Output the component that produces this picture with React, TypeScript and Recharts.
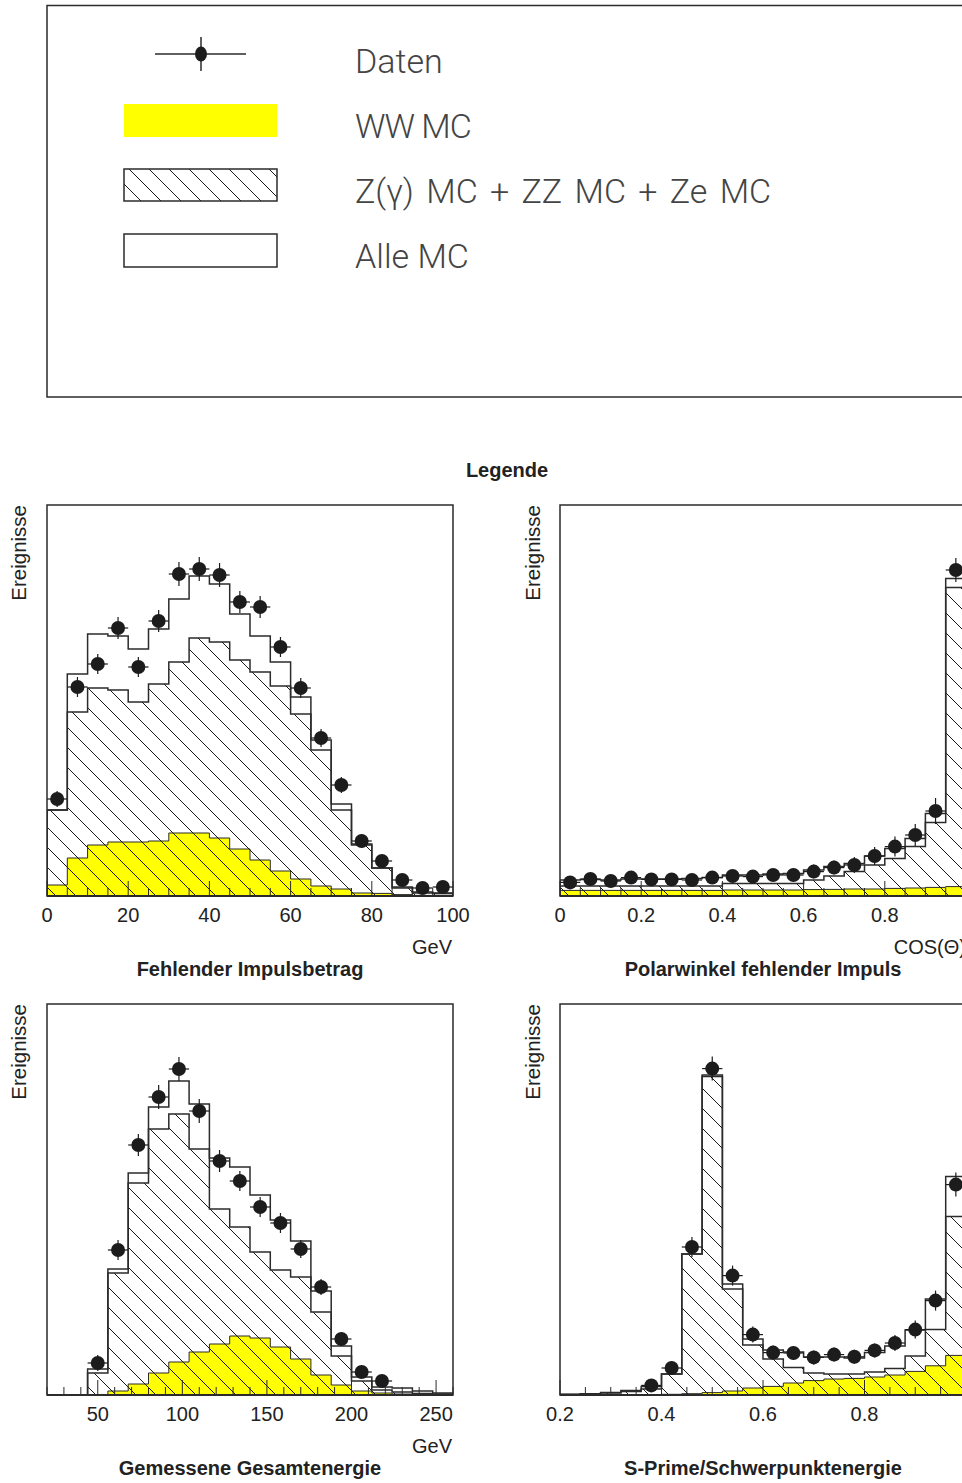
import React from "react";
import {
  ComposedChart,
  Area,
  Scatter,
  ErrorBar,
  XAxis,
  YAxis,
  ReferenceArea,
} from "recharts";

// Fehlender Impulsbetrag, 20 bins of 5 GeV from 0
const pmissData = [48.5, 104.5, 116, 134, 114.5, 137.5, 161, 163.5, 160.5, 147, 144.5, 124.5, 104, 79, 55.5, 27.5, 17.5, 8, 4, 4.5];
const pmissErr = [4, 5, 5, 5.5, 5, 5.5, 6, 6, 6, 5.5, 5.5, 5, 5, 4.5, 4, 3.5, 3, 2.5, 2, 2];
const pmissAll = [43, 111, 131, 130, 123.5, 133.5, 148.5, 160, 156, 141, 130, 117, 99.5, 78, 46, 26, 14, 4.5, 2, 1.5];
const pmissZ = [43, 92, 104, 103, 97, 106, 117, 129, 127, 118, 112, 105, 91, 73, 43, 25.5, 14, 4, 1.5, 1.3];
const pmissWW = [5.5, 19, 25.5, 27, 27, 27.5, 31.5, 31.5, 29, 23.5, 18, 12.5, 8.5, 5, 3.5, 1.5, 1.3, 0.7, 0.3, 0.3];
const pmissTicks = [0, 5, 10, 15, 20, 25, 30, 35, 40, 45, 50, 55, 60, 65, 70, 75, 80, 85, 90, 95, 100];
const pmissLabels = [0, 20, 40, 60, 80, 100];

// Polarwinkel, 20 bins of 0.05 from 0
const cosData = [6.8, 8.5, 7.5, 9.2, 8.3, 8.3, 8, 9.2, 10, 9.7, 10.5, 10.5, 12.2, 14.2, 15.5, 20, 24.7, 30.5, 42.5, 163];
const cosErr = [2.5, 3, 3, 3, 3, 3, 3, 3, 3, 3, 3, 3, 3.5, 3.5, 4, 4.5, 5, 5.5, 6.5, 6];
const cosAll = [8, 8.3, 8, 8.5, 8.5, 8.5, 8.8, 9.2, 10.5, 10.5, 11, 11.3, 13, 14.7, 16.3, 20, 23.8, 28.8, 41.3, 158.8];
const cosZ = [5, 5, 5, 5, 5, 5, 5, 5, 6.3, 6.3, 6.3, 6.3, 8, 10, 12.2, 15.5, 18.8, 24.7, 36.7, 154.2];
const cosWW = [2.8, 2.8, 2.8, 2.8, 2.8, 2.8, 2.8, 2.8, 3, 3, 3, 3, 3.2, 3.3, 3.5, 3.5, 3.8, 4, 4.3, 4.7];
const cosTicks = [0, 0.05, 0.1, 0.15, 0.2, 0.25, 0.3, 0.35, 0.4, 0.45, 0.5, 0.55, 0.6, 0.65, 0.7, 0.75, 0.8, 0.85, 0.9, 0.95, 1];
const cosLabels = [0, 0.2, 0.4, 0.6, 0.8];

// Gemessene Gesamtenergie, 20 bins of 12 GeV from 20
const eData = [null, null, 16, 72.5, 125, 149, 163, 142, 117, 107, 94, 86, 73, 54, 28, 11.5, 7, null, null, null];
const eErr = [0, 0, 4, 5, 5.5, 6, 6, 6, 5.5, 5, 5, 5, 4.5, 4, 3.5, 3, 2.5, 0, 0, 0];
const eAll = [0, 0, 13, 63, 111, 144, 157, 145.5, 118.5, 114, 100, 87.5, 77, 52, 24.5, 9, 4, 3.5, 2, 1];
const eZ = [0, 0, 11, 61, 106, 133, 140.5, 123, 93, 84, 71.5, 62.5, 59, 41.5, 19.5, 7, 2.5, 1.5, 0.8, 0.5];
const eWW = [0, 0, 0, 2, 5.5, 11, 16.5, 21.5, 25.5, 29.5, 28.5, 24, 18, 10, 5, 2, 1, 0.5, 0.3, 0.2];
const eTicks = [20, 30, 40, 50, 60, 70, 80, 90, 100, 110, 120, 130, 140, 150, 160, 170, 180, 190, 200, 210, 220, 230, 240, 250, 260];
const eLabels = [50, 100, 150, 200, 250];

// S-Prime/Schwerpunktenergie, 20 bins of 0.04 from 0.2
const sData = [null, null, null, null, 4.8, 13.5, 74, 163.2, 59.7, 30.2, 21.2, 21, 18.8, 20.2, 19.1, 22.3, 26, 32.7, 47.2, 105.2];
const sErr = [0, 0, 0, 0, 2.5, 3.5, 5, 6, 5, 4, 3.5, 3.5, 3.5, 3.5, 3.5, 3.5, 4, 4.5, 5, 6];
const sAll = [0.35, 0.65, 1.2, 2.2, 4.3, 10.5, 70.5, 160, 55.5, 28, 22.5, 21.5, 19, 19, 18.5, 21.3, 24.5, 32.5, 48, 109.3];
const sZ = [0.25, 0.5, 1, 1.75, 3, 10.5, 70.5, 159.3, 53, 25, 18, 13.8, 11, 10.5, 10.5, 11.5, 13.3, 19.5, 32.7, 89.3];
const sWW = [0, 0, 0, 0, 0, 0.35, 0.65, 1.2, 2, 3.5, 4.3, 6, 7.2, 8, 8.3, 9, 10, 11.8, 14.6, 19.8];
const sTicks = [0.2, 0.25, 0.3, 0.35, 0.4, 0.45, 0.5, 0.55, 0.6, 0.65, 0.7, 0.75, 0.8, 0.85, 0.9, 0.95, 1];
const sLabels = [0.2, 0.4, 0.6, 0.8];

const Y_MAX = 195.5;
const INK = "#2b2b2b";
const FONT = "'Liberation Sans', Arial, sans-serif";
const PAD = 24; // room for edge tick labels

function histRows(lo: number, step: number, all: number[], z: number[], ww: number[]) {
  const n = all.length;
  const rows = [{ x: lo, all: 0, z: 0, ww: 0 }];
  for (let i = 0; i < n; i++) rows.push({ x: lo + i * step, all: all[i], z: z[i], ww: ww[i] });
  rows.push({ x: lo + n * step, all: all[n - 1], z: z[n - 1], ww: ww[n - 1] });
  rows.push({ x: lo + n * step, all: 0, z: 0, ww: 0 });
  return rows;
}

function dataPoints(lo: number, step: number, vals: (number | null)[], err: number[]) {
  const pts: { x: number; y: number; ey: number; ex: number }[] = [];
  vals.forEach((v, i) => {
    if (v == null) return;
    pts.push({ x: lo + (i + 0.5) * step, y: v, ey: err[i], ex: step / 2 });
  });
  return pts;
}

function makeTick(labels: number[], fmt: (v: number) => string) {
  return (props: any) => {
    const { x, y, payload } = props;
    const v = payload.value;
    const major = labels.some((l) => Math.abs(l - v) < 1e-6);
    return (
      <g>
        <line x1={x} x2={x} y1={y} y2={y - (major ? 15 : 8)} stroke={INK} strokeWidth={1} />
        {major && (
          <text x={x} y={y + 26} textAnchor="middle" fontSize={20} fontFamily={FONT} fill="#222">
            {fmt(v)}
          </text>
        )}
      </g>
    );
  };
}

interface PanelProps {
  id: string;
  left: number;
  top: number;
  lo: number;
  step: number;
  data: (number | null)[];
  err: number[];
  all: number[];
  z: number[];
  ww: number[];
  ticks: number[];
  labels: number[];
  fmt: (v: number) => string;
}

function Panel({ id, left, top, lo, step, data, err, all, z, ww, ticks, labels, fmt }: PanelProps) {
  const rows = histRows(lo, step, all, z, ww);
  const pts = dataPoints(lo, step, data, err);
  const dom = [lo, lo + all.length * step];
  return (
    <div style={{ position: "absolute", left: left - PAD, top: top - 2 }}>
      <ComposedChart width={406 + 2 * PAD} height={433} data={rows} margin={{ top: 2, right: PAD, left: PAD, bottom: 0 }}>
        <defs>
          <pattern id={`hatch-${id}`} width={20} height={20} patternUnits="userSpaceOnUse">
            <path d="M-5,-5 L25,25 M-5,15 L5,25 M15,-5 L25,5" stroke="#1a1a1a" strokeWidth={1} />
          </pattern>
        </defs>
        <Area type="stepAfter" dataKey="all" stroke={INK} strokeWidth={1.5} fill="#ffffff" fillOpacity={1} isAnimationActive={false} dot={false} activeDot={false} />
        <Area type="stepAfter" dataKey="ww" stroke={INK} strokeWidth={1} fill="#ffff00" fillOpacity={1} isAnimationActive={false} dot={false} activeDot={false} />
        <Area type="stepAfter" dataKey="z" stroke={INK} strokeWidth={1.5} fill={`url(#hatch-${id})`} fillOpacity={1} isAnimationActive={false} dot={false} activeDot={false} />
        <Scatter
          data={pts}
          dataKey="y"
          isAnimationActive={false}
          shape={(p: any) => <circle cx={p.cx} cy={p.cy} r={7} fill="#1c1c1c" />}
        >
          <ErrorBar dataKey="ey" direction="y" width={0} stroke="#1c1c1c" strokeWidth={1.2} isAnimationActive={false} />
          <ErrorBar dataKey="ex" direction="x" width={0} stroke="#1c1c1c" strokeWidth={1.2} isAnimationActive={false} />
        </Scatter>
        <ReferenceArea x1={dom[0]} x2={dom[1]} y1={0} y2={Y_MAX} fill="none" fillOpacity={0} stroke={INK} strokeWidth={1.5} ifOverflow="visible" />
        <XAxis
          dataKey="x"
          type="number"
          domain={dom}
          allowDataOverflow
          ticks={ticks}
          interval={0}
          tickSize={0}
          tickMargin={0}
          tickLine={false}
          tick={makeTick(labels, fmt)}
          height={40}
          axisLine={{ stroke: INK, strokeWidth: 2 }}
        />
        <YAxis type="number" domain={[0, Y_MAX]} allowDataOverflow tick={false} tickLine={false} width={0} axisLine={{ stroke: INK, strokeWidth: 1.5 }} />
      </ComposedChart>
    </div>
  );
}

function Labels() {
  const legendFont = "Roboto, 'Noto Sans', sans-serif";
  const lt = { fontFamily: legendFont, fontWeight: 300, fontSize: 34, fill: "#444" } as const;
  const bold = { fontFamily: FONT, fontWeight: 700, fontSize: 20, fill: "#222" } as const;
  const reg = { fontFamily: FONT, fontSize: 20, fill: "#222" } as const;
  return (
    <svg width={962} height={1483} style={{ position: "absolute", left: 0, top: 0 }}>
      <defs>
        <pattern id="hatch-legend" width={20} height={20} patternUnits="userSpaceOnUse">
          <path d="M-5,-5 L25,25 M-5,15 L5,25 M15,-5 L25,5" stroke="#1a1a1a" strokeWidth={1} />
        </pattern>
      </defs>
      {/* legend pad */}
      <rect x={47} y={5.5} width={1000} height={391.5} fill="none" stroke={INK} strokeWidth={1.5} />
      <line x1={155} x2={246} y1={54} y2={54} stroke={INK} strokeWidth={1.5} />
      <line x1={201} x2={201} y1={37} y2={71} stroke={INK} strokeWidth={1.5} />
      <ellipse cx={201} cy={54} rx={6} ry={7.5} fill="#1c1c1c" />
      <text x={355} y={73} {...lt}>Daten</text>
      <rect x={124} y={104} width={153} height={33} fill="#ffff00" />
      <text x={355} y={138} {...lt} letterSpacing={-1}>WW MC</text>
      <rect x={124} y={169} width={153} height={32} fill="url(#hatch-legend)" stroke={INK} strokeWidth={1.5} />
      <text x={355} y={203} {...lt} wordSpacing={4}>Z(γ) MC + ZZ MC + Ze MC</text>
      <rect x={124} y={234} width={153} height={33} fill="none" stroke={INK} strokeWidth={1.5} />
      <text x={355} y={268} {...lt}>Alle MC</text>
      <text x={507} y={477} textAnchor="middle" {...bold}>Legende</text>

      {/* axis titles */}
      <text transform="translate(26,505) rotate(-90)" textAnchor="end" {...reg} fontSize={20.5}>Ereignisse</text>
      <text transform="translate(540,505) rotate(-90)" textAnchor="end" {...reg} fontSize={20.5}>Ereignisse</text>
      <text transform="translate(26,1004) rotate(-90)" textAnchor="end" {...reg} fontSize={20.5}>Ereignisse</text>
      <text transform="translate(540,1004) rotate(-90)" textAnchor="end" {...reg} fontSize={20.5}>Ereignisse</text>

      <text x={452} y={954} textAnchor="end" {...reg}>GeV</text>
      <text x={966} y={954} textAnchor="end" {...reg}>COS(Θ)</text>
      <text x={452} y={1453} textAnchor="end" {...reg}>GeV</text>

      <text x={250} y={976} textAnchor="middle" {...bold}>Fehlender Impulsbetrag</text>
      <text x={763} y={976} textAnchor="middle" {...bold}>Polarwinkel fehlender Impuls</text>
      <text x={250} y={1475} textAnchor="middle" {...bold}>Gemessene Gesamtenergie</text>
      <text x={763} y={1475} textAnchor="middle" {...bold}>S-Prime/Schwerpunktenergie</text>
    </svg>
  );
}

const fmtInt = (v: number) => String(Math.round(v));
const fmtDec = (v: number) => (Math.abs(v) < 1e-9 ? "0" : v.toFixed(1));

export default function App() {
  return (
    <div style={{ position: "absolute", left: 0, top: 0, width: 962, height: 1483, overflow: "hidden", background: "#fff" }}>
      <Labels />
      <Panel id="p1" left={47} top={505} lo={0} step={5} data={pmissData} err={pmissErr} all={pmissAll} z={pmissZ} ww={pmissWW} ticks={pmissTicks} labels={pmissLabels} fmt={fmtInt} />
      <Panel id="p2" left={560} top={505} lo={0} step={0.05} data={cosData} err={cosErr} all={cosAll} z={cosZ} ww={cosWW} ticks={cosTicks} labels={cosLabels} fmt={fmtDec} />
      <Panel id="p3" left={47} top={1004} lo={20} step={12} data={eData} err={eErr} all={eAll} z={eZ} ww={eWW} ticks={eTicks} labels={eLabels} fmt={fmtInt} />
      <Panel id="p4" left={560} top={1004} lo={0.2} step={0.04} data={sData} err={sErr} all={sAll} z={sZ} ww={sWW} ticks={sTicks} labels={sLabels} fmt={fmtDec} />
    </div>
  );
}
